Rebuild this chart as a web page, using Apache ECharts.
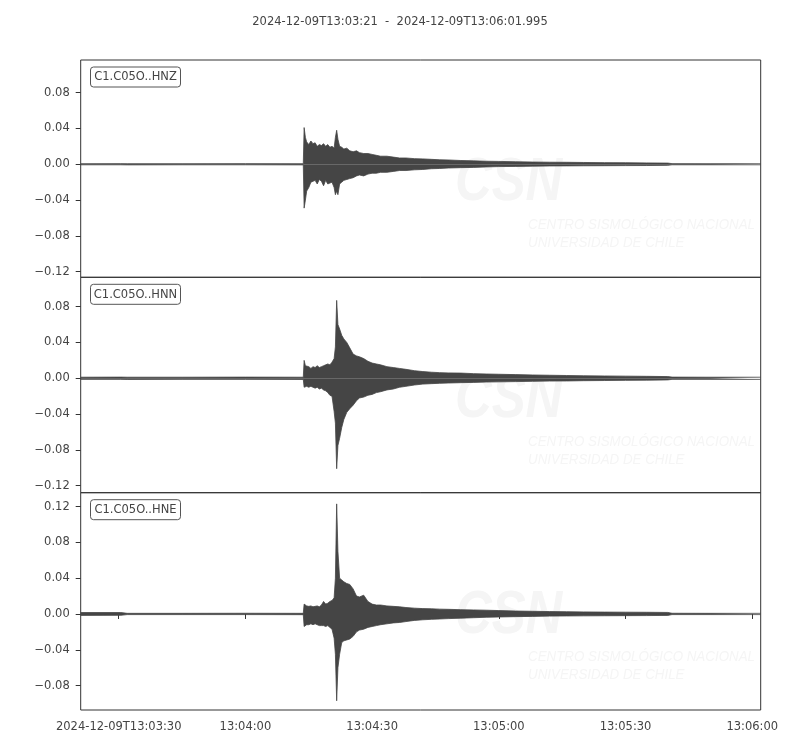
<!DOCTYPE html>
<html>
<head>
<meta charset="utf-8">
<script src="https://cdn.jsdelivr.net/npm/echarts@6/dist/echarts.min.js"></script>
<style>html,body{margin:0;padding:0;background:#fff}#c{width:800px;height:750px}</style>
</head>
<body>
<div id="c"></div>
<script>
// ---- data (time in seconds after 2024-12-09T13:03:00) ----
var titleText = '2024-12-09T13:03:21  -  2024-12-09T13:06:01.995';
var channels = ['C1.C05O..HNZ', 'C1.C05O..HNN', 'C1.C05O..HNE'];
var tStart = 21, tEnd = 181.995;
var xTickSec = [30, 60, 90, 120, 150, 180];
var xTickLabels = ['2024-12-09T13:03:30', '13:04:00', '13:04:30', '13:05:00', '13:05:30', '13:06:00'];
var yTicksA = [-0.12, -0.08, -0.04, 0, 0.04, 0.08];
var yTicksB = [-0.08, -0.04, 0, 0.04, 0.08, 0.12];
var yRanges = [[-0.1263, 0.1165], [-0.1278, 0.1128], [-0.1073, 0.1355]];

// envelope sample times
var T = [21, 30.5, 32, 45, 60, 73.7, 73.9, 74.2, 74.5, 75, 75.5, 76, 76.5, 77, 77.5, 78, 78.5, 79, 79.5, 80,
  80.5, 81, 81.3, 81.6, 81.9, 82.3, 82.8, 83.3, 84, 84.7, 85.5, 86.3, 87, 88, 89, 90, 91, 92, 93.5, 95,
  96.5, 98, 100, 102, 104, 106, 108, 111, 114, 117, 120, 124, 128, 132, 136, 140, 145, 150, 155, 160,
  161, 170, 182];

// HNZ envelope (upper / lower)
var hnzHi = [.0006, .0007, .0006, .0006, .0007, .0006, .041, .030, .025, .022, .026, .023, .024, .020, .022, .021, .023, .020, .022, .019,
  .020, .018, .030, .038, .028, .020, .019, .017, .018, .015, .014, .015, .013, .012, .012, .011, .010, .009, .009, .008,
  .007, .007, .0063, .006, .0055, .005, .0048, .0042, .0038, .0034, .0032, .0028, .0025, .0023, .0022, .002, .0018, .0017, .0015, .0013,
  .0007, .0006, .0006];
var hnzLo = [-.0006, -.0006, -.0007, -.0006, -.0006, -.0007, -.049, -.040, -.030, -.026, -.020, -.019, -.018, -.022, -.017, -.019, -.024, -.018, -.022, -.021,
  -.020, -.026, -.034, -.030, -.034, -.022, -.020, -.018, -.017, -.016, -.015, -.013, -.012, -.013, -.011, -.010, -.010, -.009, -.009, -.008,
  -.007, -.007, -.0062, -.0058, -.005, -.0047, -.0042, -.0038, -.0035, -.003, -.0026, -.0024, -.0021, -.0019, -.0018, -.0017, -.0016, -.0015, -.0014, -.0012,
  -.0006, -.0006, -.0006];

// HNN envelope
var hnnHi = [.0012, .0013, .0012, .0012, .0013, .0012, .020, .014, .012, .013, .011, .013, .012, .014, .012, .013, .014, .015, .016, .015,
  .018, .022, .035, .087, .060, .055, .048, .044, .040, .034, .027, .025, .024, .022, .019, .017, .016, .015, .013, .012,
  .011, .010, .0085, .0075, .0068, .0063, .006, .0058, .0052, .0048, .0045, .0041, .0037, .0034, .0031, .0028, .0026, .0024, .0022, .0019,
  .0013, .0012, .0012];
var hnnLo = [-.0012, -.0012, -.0013, -.0012, -.0012, -.0013, -.010, -.011, -.009, -.010, -.009, -.010, -.011, -.010, -.012, -.011, -.013, -.014, -.016, -.019,
  -.020, -.037, -.050, -.101, -.075, -.067, -.055, -.046, -.038, -.034, -.030, -.025, -.022, -.021, -.019, -.018, -.016, -.015, -.013, -.012,
  -.010, -.009, -.0075, -.0065, -.006, -.0056, -.0053, -.0049, -.0046, -.0042, -.004, -.0037, -.0034, -.0031, -.003, -.0027, -.0025, -.0023, -.0021, -.0018,
  -.0012, -.0012, -.0012];

// HNE envelope
var hneHi = [.0016, .0016, .0007, .0007, .0008, .0007, .011, .010, .009, .0085, .009, .008, .0085, .009, .008, .010, .014, .011, .012, .014,
  .015, .018, .040, .123, .070, .040, .038, .036, .034, .033, .028, .020, .019, .021, .014, .011, .010, .010, .009, .0085,
  .008, .0072, .0065, .006, .0058, .0054, .0052, .0048, .0045, .0042, .0038, .0033, .003, .0027, .0025, .0023, .0021, .002, .0019, .0017,
  .0008, .0007, .0007];
var hneLo = [-.0016, -.0015, -.0007, -.0007, -.0007, -.0008, -.014, -.013, -.012, -.012, -.011, -.012, -.011, -.012, -.013, -.013, -.013, -.014, -.013, -.015,
  -.017, -.027, -.045, -.097, -.060, -.045, -.032, -.030, -.029, -.028, -.025, -.020, -.018, -.017, -.015, -.014, -.013, -.012, -.011, -.010,
  -.0095, -.0085, -.0072, -.0065, -.006, -.0056, -.0052, -.0047, -.0042, -.0037, -.0034, -.003, -.0027, -.0024, -.0022, -.0021, -.002, -.0019, -.0018, -.0016,
  -.0007, -.0007, -.0007];

// ---- chart ----
var highs = [hnzHi, hnnHi, hneHi];
var lows = [hnzLo, hnnLo, hneLo];
var TRACE = '#454545';
var FONT = 'DejaVu Sans';
var panelTops = [60, 277.3, 492.7];
var panelHeights = [217.3, 215.4, 217.3];

function fmtY(v) {
  var s = Math.abs(v) < 1e-9 ? '0.00' : v.toFixed(2);
  return s.replace('-', '\u2212');
}

var grids = [], xAxes = [], yAxes = [], series = [], graphics = [];
for (var k = 0; k < 3; k++) {
  grids.push({left: 80.7, width: 680, top: panelTops[k], height: panelHeights[k],
    show: true, borderColor: '#333', borderWidth: 1, backgroundColor: 'transparent'});
  var isBottom = k === 2;
  xAxes.push({
    type: 'value', gridIndex: k, min: tStart, max: tEnd,
    axisLine: {show: false},
    splitLine: {show: false},
    axisTick: {show: isBottom, customValues: xTickSec, length: 5, inside: false,
      lineStyle: {color: '#333', width: 1}},
    axisLabel: {show: isBottom, customValues: xTickSec, margin: 11, color: '#444', fontSize: 11.5, fontFamily: FONT,
      formatter: function (v) { var i = xTickSec.indexOf(Math.round(v)); return i >= 0 ? xTickLabels[i] : ''; }}
  });
  var yt = k === 2 ? yTicksB : yTicksA;
  yAxes.push({
    type: 'value', gridIndex: k, min: yRanges[k][0], max: yRanges[k][1],
    axisLine: {show: false},
    splitLine: {show: false},
    axisTick: {show: true, customValues: yt, length: 5, lineStyle: {color: '#333', width: 1}},
    axisLabel: {customValues: yt, margin: 11, color: '#444', fontSize: 11.5, fontFamily: FONT, formatter: fmtY}
  });
  var hi = highs[k], lo = lows[k];
  // upper envelope filled down to zero, lower envelope filled up to zero -> full band
  series.push({
    type: 'line', xAxisIndex: k, yAxisIndex: k,
    symbol: 'none', animation: false, silent: true,
    lineStyle: {color: TRACE, width: 0.8},
    areaStyle: {color: TRACE, opacity: 1, origin: 0},
    data: T.map(function (t, i) { return [t, hi[i]]; })
  });
  series.push({
    type: 'line', xAxisIndex: k, yAxisIndex: k,
    symbol: 'none', animation: false, silent: true,
    lineStyle: {color: TRACE, width: 0.8},
    areaStyle: {color: TRACE, opacity: 1, origin: 0},
    data: T.map(function (t, i) { return [t, lo[i]]; })
  });

  var pTop = panelTops[k];
  // faint watermark
  graphics.push({type: 'text', x: 455, y: pTop + 92, scaleX: 0.82, z: -1, silent: true,
    style: {text: 'CSN', fill: '#f5f5f5', font: 'italic bold 62px "Liberation Sans"'}});
  graphics.push({type: 'text', x: 528, y: pTop + 157, scaleX: 0.89, z: -1, silent: true,
    style: {text: 'CENTRO SISMOLÓGICO NACIONAL', fill: '#f5f5f5', font: 'italic 15px "Liberation Sans"'}});
  graphics.push({type: 'text', x: 528, y: pTop + 175, scaleX: 0.89, z: -1, silent: true,
    style: {text: 'UNIVERSIDAD DE CHILE', fill: '#f5f5f5', font: 'italic 15px "Liberation Sans"'}});
  // channel label box
  graphics.push({
    type: 'group', x: 90.5, y: pTop + 7, z: 10,
    children: [
      {type: 'rect', shape: {x: 0, y: 0, width: 90, height: 20, r: 3},
        style: {fill: '#fff', stroke: '#555', lineWidth: 1}},
      {type: 'text', x: 45, y: 10.5, style: {text: channels[k], fill: '#444', fontSize: 11.5,
        fontFamily: FONT, align: 'center', verticalAlign: 'middle'}}
    ]
  });
}

var chart = echarts.init(document.getElementById('c'), null, {renderer: 'canvas'});
chart.setOption({
  backgroundColor: '#fff',
  animation: false,
  title: {text: titleText, left: 'center', top: 11,
    textStyle: {fontSize: 11.5, fontWeight: 'normal', color: '#444', fontFamily: FONT}},
  grid: grids,
  xAxis: xAxes,
  yAxis: yAxes,
  series: series,
  graphic: {elements: graphics}
});
</script>
</body>
</html>
